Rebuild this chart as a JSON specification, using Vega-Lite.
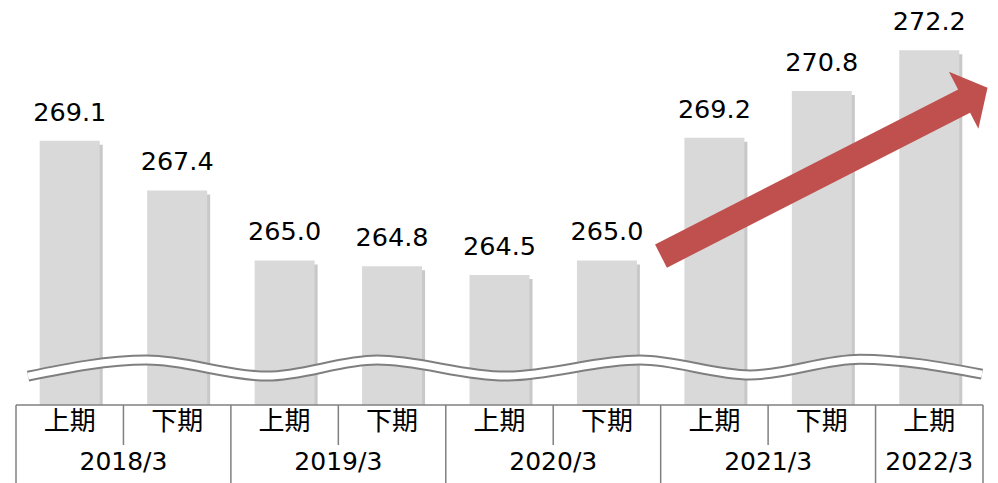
{
  "$schema": "https://vega.github.io/schema/vega-lite/v6.json",
  "width": 967,
  "height": 483,
  "autosize": {"type": "none"},
  "padding": {"left": 16, "right": 15, "top": 0, "bottom": 0},
  "background": "white",
  "config": {"view": {"stroke": null}, "font": "DejaVu Sans"},
  "datasets": {
    "main": [
      {"i": 0, "period": "2018/3", "half": "上期", "value": 269.1},
      {"i": 1, "period": "2018/3", "half": "下期", "value": 267.4},
      {"i": 2, "period": "2019/3", "half": "上期", "value": 265.0},
      {"i": 3, "period": "2019/3", "half": "下期", "value": 264.8},
      {"i": 4, "period": "2020/3", "half": "上期", "value": 264.5},
      {"i": 5, "period": "2020/3", "half": "下期", "value": 265.0},
      {"i": 6, "period": "2021/3", "half": "上期", "value": 269.2},
      {"i": 7, "period": "2021/3", "half": "下期", "value": 270.8},
      {"i": 8, "period": "2022/3", "half": "上期", "value": 272.2}
    ],
    "wave": [
      {"wx": -0.388, "wy": 261.04},
      {"wx": 0.719, "wy": 261.59},
      {"wx": 1.836, "wy": 261.04},
      {"wx": 2.860, "wy": 261.59},
      {"wx": 4.051, "wy": 261.04},
      {"wx": 5.308, "wy": 261.59},
      {"wx": 6.332, "wy": 261.08},
      {"wx": 7.356, "wy": 261.62},
      {"wx": 8.491, "wy": 261.11}
    ],
    "arrow": [
      {"ax": 5.503, "ay": 265.15},
      {"ax": 8.342, "ay": 270.49}
    ],
    "head": [{"ax": 8.431, "ay": 270.70}],
    "hline": [{"x1": -0.5, "x2": 8.5}],
    "yearSeps": [{"s": -0.5}, {"s": 1.5}, {"s": 3.5}, {"s": 5.5}, {"s": 7.5}, {"s": 8.5}],
    "halfSeps": [{"s": 0.5}, {"s": 2.5}, {"s": 4.5}, {"s": 6.5}],
    "years": [
      {"yx": 0.5, "year": "2018/3"},
      {"yx": 2.5, "year": "2019/3"},
      {"yx": 4.5, "year": "2020/3"},
      {"yx": 6.5, "year": "2021/3"},
      {"yx": 8, "year": "2022/3"}
    ]
  },
  "resolve": {"scale": {"x": "shared", "y": "shared"}},
  "layer": [
    {
      "data": {"name": "main"},
      "mark": {"type": "bar", "size": 60, "color": "#9a9a9a", "opacity": 0.55, "xOffset": 3, "yOffset": 4},
      "encoding": {
        "x": {"field": "i", "type": "quantitative", "scale": {"domain": [-0.5, 8.5], "nice": false, "zero": false, "padding": 0}, "axis": null},
        "y": {"field": "value", "type": "quantitative", "scale": {"domain": [257.38, 273.92], "nice": false, "zero": false, "padding": 0}, "axis": null},
        "y2": {"datum": 260.05}
      }
    },
    {
      "data": {"name": "main"},
      "mark": {"type": "bar", "size": 60, "color": "#d9d9d9"},
      "encoding": {
        "x": {"field": "i", "type": "quantitative"},
        "y": {"field": "value", "type": "quantitative"},
        "y2": {"datum": 260.05}
      }
    },
    {
      "data": {"name": "main"},
      "mark": {"type": "text", "fontSize": 25.5, "baseline": "alphabetic", "dy": -20, "color": "#000000", "font": "DejaVu Sans"},
      "encoding": {
        "x": {"field": "i", "type": "quantitative"},
        "y": {"field": "value", "type": "quantitative"},
        "text": {"field": "value", "type": "quantitative", "format": ".1f"}
      }
    },
    {
      "data": {"name": "wave"},
      "mark": {"type": "line", "interpolate": "monotone", "color": "#7f7f7f", "strokeWidth": 11, "strokeCap": "butt"},
      "encoding": {
        "x": {"field": "wx", "type": "quantitative"},
        "y": {"field": "wy", "type": "quantitative"}
      }
    },
    {
      "data": {"name": "wave"},
      "mark": {"type": "line", "interpolate": "monotone", "color": "#ffffff", "strokeWidth": 7, "strokeCap": "butt"},
      "encoding": {
        "x": {"field": "wx", "type": "quantitative"},
        "y": {"field": "wy", "type": "quantitative"}
      }
    },
    {
      "data": {"name": "arrow"},
      "mark": {"type": "line", "color": "#c0504d", "strokeWidth": 26, "strokeCap": "butt"},
      "encoding": {
        "x": {"field": "ax", "type": "quantitative"},
        "y": {"field": "ay", "type": "quantitative"}
      }
    },
    {
      "data": {"name": "head"},
      "mark": {"type": "point", "shape": "M -0.42 -1 L 0.42 0 L -0.42 1 Z", "size": 4096, "angle": 332.6, "filled": true, "opacity": 1, "color": "#c0504d", "strokeWidth": 0},
      "encoding": {
        "x": {"field": "ax", "type": "quantitative"},
        "y": {"field": "ay", "type": "quantitative"}
      }
    },
    {
      "data": {"name": "hline"},
      "mark": {"type": "rule", "color": "#808080", "strokeWidth": 1.5},
      "encoding": {
        "x": {"field": "x1", "type": "quantitative"},
        "x2": {"field": "x2"},
        "y": {"datum": 260.05}
      }
    },
    {
      "data": {"name": "yearSeps"},
      "mark": {"type": "rule", "color": "#808080", "strokeWidth": 1.5},
      "encoding": {
        "x": {"field": "s", "type": "quantitative"},
        "y": {"datum": 260.05},
        "y2": {"datum": 257.38}
      }
    },
    {
      "data": {"name": "halfSeps"},
      "mark": {"type": "rule", "color": "#808080", "strokeWidth": 1.5},
      "encoding": {
        "x": {"field": "s", "type": "quantitative"},
        "y": {"datum": 260.05},
        "y2": {"datum": 258.68}
      }
    },
    {
      "data": {"name": "main"},
      "mark": {"type": "text", "fontSize": 26, "baseline": "middle", "color": "#000000", "font": "Noto Sans CJK JP"},
      "encoding": {
        "x": {"field": "i", "type": "quantitative"},
        "y": {"datum": 259.47},
        "text": {"field": "half", "type": "nominal"}
      }
    },
    {
      "data": {"name": "years"},
      "mark": {"type": "text", "fontSize": 25, "baseline": "middle", "color": "#000000", "font": "DejaVu Sans"},
      "encoding": {
        "x": {"field": "yx", "type": "quantitative"},
        "y": {"datum": 258.10},
        "text": {"field": "year", "type": "nominal"}
      }
    }
  ]
}
